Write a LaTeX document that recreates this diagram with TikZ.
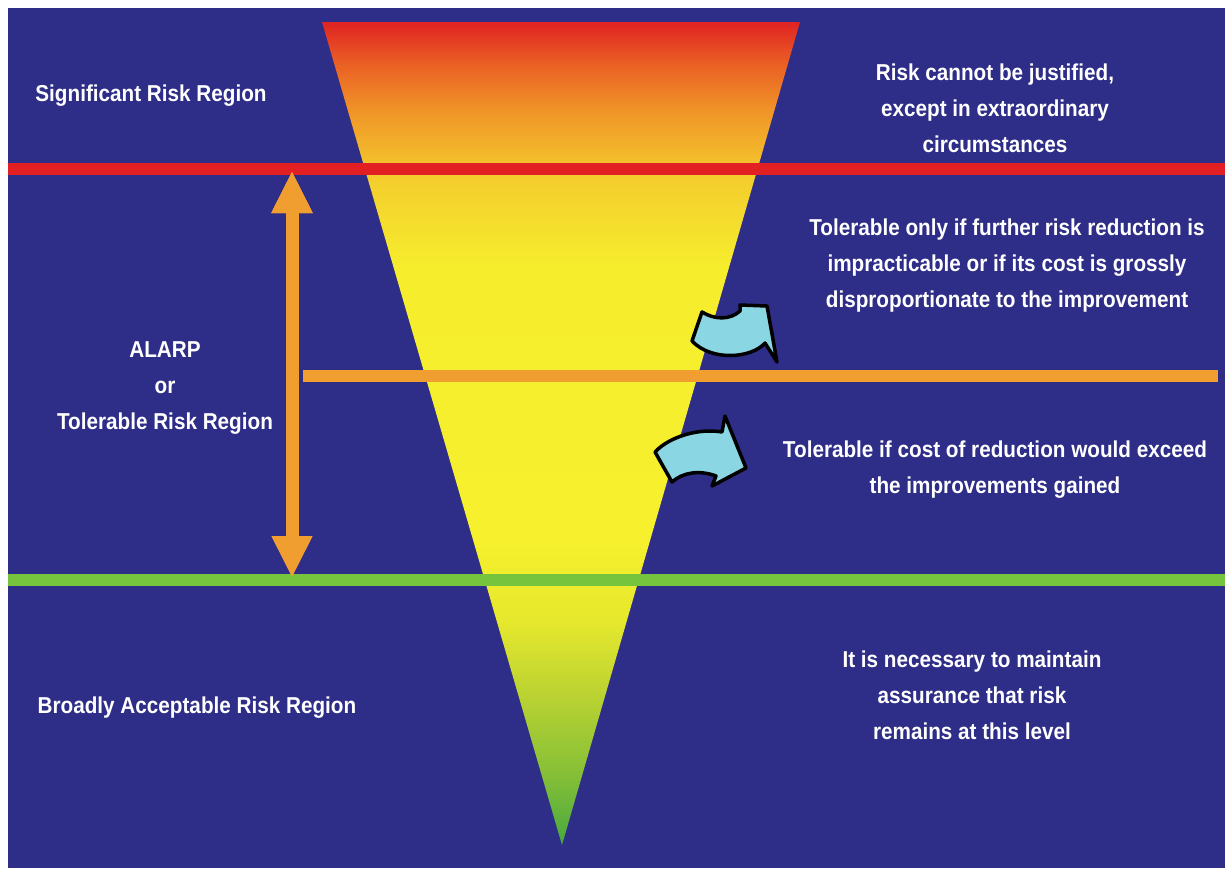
\documentclass[tikz,border=0pt]{standalone}
\usepackage{fontspec}
\setmainfont{Liberation Sans}[FakeStretch=0.9]
\usetikzlibrary{arrows.meta}
\definecolor{bgblue}{RGB}{46,45,135}
\definecolor{riskred}{RGB}{226,32,36}
\definecolor{alarporange}{RGB}{240,158,48}
\definecolor{okgreen}{RGB}{118,196,62}
\definecolor{arrowcyan}{RGB}{138,214,226}
\definecolor{fa}{RGB}{70,168,64}
\definecolor{fb}{RGB}{130,190,55}
\definecolor{fc}{RGB}{185,210,50}
\definecolor{fd}{RGB}{230,232,45}
\definecolor{fe}{RGB}{246,240,45}
\definecolor{ff}{RGB}{246,238,45}
\definecolor{fg}{RGB}{244,205,45}
\definecolor{fh}{RGB}{240,150,40}
\definecolor{fi}{RGB}{234,95,36}
\definecolor{fj}{RGB}{224,35,35}
\pgfdeclareverticalshading{funnelshade}{100bp}{color(0bp)=(fa); color(25bp)=(fa); color(29bp)=(fb); color(34bp)=(fc); color(38.6bp)=(fd); color(43.5bp)=(fe); color(60bp)=(ff); color(65.5bp)=(fg); color(69.5bp)=(fh); color(72.5bp)=(fi); color(75bp)=(fj); color(100bp)=(fj)}
\begin{document}
\begin{tikzpicture}[x=1pt, y=-1pt]
	\tikzstyle{band} = [line width=12pt]
	\tikzstyle{txt} = [text=white, align=center, font=\fontsize{23}{36}\selectfont\bfseries]
	\tikzstyle{curly} = [draw=black, fill=arrowcyan, line width=3.5pt, line join=round]
	\useasboundingbox[fill=white] (0,0) rectangle (1225,868);
	\fill[bgblue] (8,8) rectangle (1225,868);
	\shade[shading=funnelshade] (322,22) -- (800,22) -- (562,845) -- cycle;
	\coordinate (redl) at (8,169);
	\coordinate (redr) at (1225,169);
	\coordinate (orangel) at (303,376);
	\coordinate (oranger) at (1218,376);
	\coordinate (greenl) at (8,580);
	\coordinate (greenr) at (1225,580);
	\draw[band,riskred] (redl) -- (redr);
	\draw[band,alarporange] (orangel) -- (oranger);
	\draw[band,okgreen] (greenl) -- (greenr);
	\coordinate (alarptop) at (292,171);
	\coordinate (alarpbot) at (292,578);
	\path[{Triangle[length=42pt,width=38pt]}-{Triangle[length=42pt,width=38pt]}, line width=13pt, draw=alarporange, fill=alarporange]
	(alarptop) edge (alarpbot);
	\path[curly] (692,341) -- (702,312) .. controls (715,320) and (730,320) .. (740,311) -- (740,305) -- (767,306) -- (777,362) -- (765,343) .. controls (752,358) and (712,362) .. (692,341) -- cycle;
	\path[curly] (655,452) .. controls (670,436) and (700,428) .. (722,432) -- (725,416) -- (746,468) -- (712,486) -- (716,476) .. controls (700,470) and (683,472) .. (672,482) -- cycle;
	\node[txt](significant)at(151,96){Significant Risk Region};
	\node[txt](justified)at(995,108){Risk cannot be justified,\\except in extraordinary\\circumstances};
	\node[txt](onlyif)at(1007,266){Tolerable only if further risk reduction is\\impracticable or if its cost is grossly\\disproportionate to the improvement};
	\node[txt](alarp)at(165,388){ALARP\\or\\Tolerable Risk Region};
	\node[txt](exceed)at(995,470){Tolerable if cost of reduction would exceed\\the improvements gained};
	\node[txt](assurance)at(972,695){It is necessary to maintain\\assurance that risk\\remains at this level};
	\node[txt](broadly)at(197,708){Broadly Acceptable Risk Region};
\end{tikzpicture}
\end{document}
